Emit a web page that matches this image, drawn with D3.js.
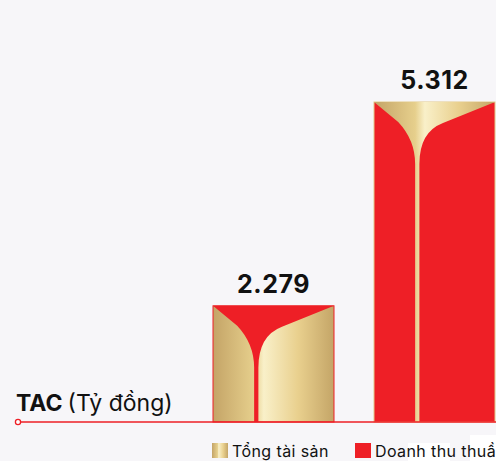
<!doctype html>
<html lang="vi">
<head>
<meta charset="utf-8">
<script src="https://cdn.jsdelivr.net/npm/d3@7"></script>
<style>
body{margin:0;padding:0;background:#f7f6f9;}
svg{display:block;font-family:Inter,"Noto Sans",sans-serif;}
</style>
</head>
<body>
<svg id="chart"></svg>
<script>
// data
var categories = ["Tổng tài sản", "Doanh thu thuần"];
var values = [2279, 5312];
var labels = ["2.279", "5.312"];
var unitLabel = ["TAC", "(Tỷ đồng)"];

var width = 496, height = 461;
var baseY = 422;
var red = "#ee1f26";

var svg = d3.select("#chart").attr("width", width).attr("height", height);
svg.append("rect").attr("width", width).attr("height", height).attr("fill", "#f7f6f9");

var defs = svg.append("defs");
function goldGrad(id){
	var g = defs.append("linearGradient").attr("id", id)
		.attr("x1", "0%").attr("x2", "100%").attr("y1", "0%").attr("y2", "0%");
	[["0%","#c4a467"],["34%","#e6cf8c"],["42%","#f9f0c9"],["70%","#e9d08e"],["100%","#c4a567"]]
		.forEach(function(s){ g.append("stop").attr("offset", s[0]).attr("stop-color", s[1]); });
}
goldGrad("gold");
goldGrad("goldLeg");

var x = d3.scaleBand().domain(categories).range([213, 495]).paddingInner(40/161).paddingOuter(0);
var y = d3.scaleLinear().domain([550, 5312]).range([baseY, 102]);

// Y-shaped emblem inside each bar
function emblem(w, h){
	var p = d3.path();
	p.moveTo(0, 0);
	p.lineTo(w, 0);
	p.lineTo(0.57*w, 21);
	p.quadraticCurveTo(0.375*w, 30, 0.375*w, 62);
	p.lineTo(0.375*w, h);
	p.lineTo(0.34*w, h);
	p.lineTo(0.34*w, 62);
	p.quadraticCurveTo(0.34*w, 38, 0.2*w, 20);
	p.closePath();
	return p.toString();
}

var bars = svg.selectAll(".bar").data(values).enter().append("g")
	.attr("class", "bar")
	.attr("transform", function(d, i){ return "translate(" + x(categories[i]) + "," + y(d) + ")"; });

bars.append("rect")
	.attr("width", x.bandwidth())
	.attr("height", function(d){ return baseY - y(d); })
	.attr("fill", function(d, i){ return i == 0 ? "url(#gold)" : red; })
	.attr("stroke", function(d, i){ return i == 0 ? red : "#e3c98a"; })
	.attr("stroke-width", 1);

bars.append("path")
	.attr("d", function(d){ return emblem(x.bandwidth(), baseY - y(d)); })
	.attr("fill", function(d, i){ return i == 0 ? red : "url(#gold)"; });

// value labels
svg.selectAll(".val").data(values).enter().append("text")
	.attr("x", function(d, i){ return x(categories[i]) + x.bandwidth()/2; })
	.attr("y", function(d){ return y(d) - 13; })
	.attr("text-anchor", "middle")
	.attr("font-size", 25)
	.attr("font-weight", 700)
	.attr("letter-spacing", 0.5)
	.attr("fill", "#111")
	.text(function(d, i){ return labels[i]; });

// baseline
svg.append("line")
	.attr("x1", 18).attr("x2", width)
	.attr("y1", baseY).attr("y2", baseY)
	.attr("stroke", red).attr("stroke-width", 1.5);
svg.append("circle")
	.attr("cx", 18).attr("cy", baseY).attr("r", 2.6)
	.attr("fill", "#fff").attr("stroke", red).attr("stroke-width", 1.3);

// unit title
var t = svg.append("text").attr("x", 16).attr("y", 411).attr("font-size", 23).attr("fill", "#111");
t.append("tspan").attr("font-weight", 700).text(unitLabel[0]);
t.append("tspan").attr("dx", 5).attr("font-weight", 400).text(unitLabel[1]);

// white patches behind the legend text
svg.append("rect").attr("x", 408).attr("y", 443).attr("width", 42).attr("height", 18).attr("fill", "#fff");
svg.append("rect").attr("x", 470).attr("y", 435).attr("width", 26).attr("height", 26).attr("fill", "#fff");

// legend
var legX = [212, 355];
var leg = svg.selectAll(".leg").data(categories).enter().append("g")
	.attr("class", "leg")
	.attr("transform", function(d, i){ return "translate(" + legX[i] + ",443)"; });
leg.append("rect")
	.attr("width", 16).attr("height", 15)
	.attr("fill", function(d, i){ return i == 0 ? "url(#goldLeg)" : red; });
leg.append("text")
	.attr("x", 20).attr("y", 14)
	.attr("font-size", 16)
	.attr("letter-spacing", 0.4)
	.attr("fill", "#111")
	.text(function(d){ return d; });
</script>
</body>
</html>
